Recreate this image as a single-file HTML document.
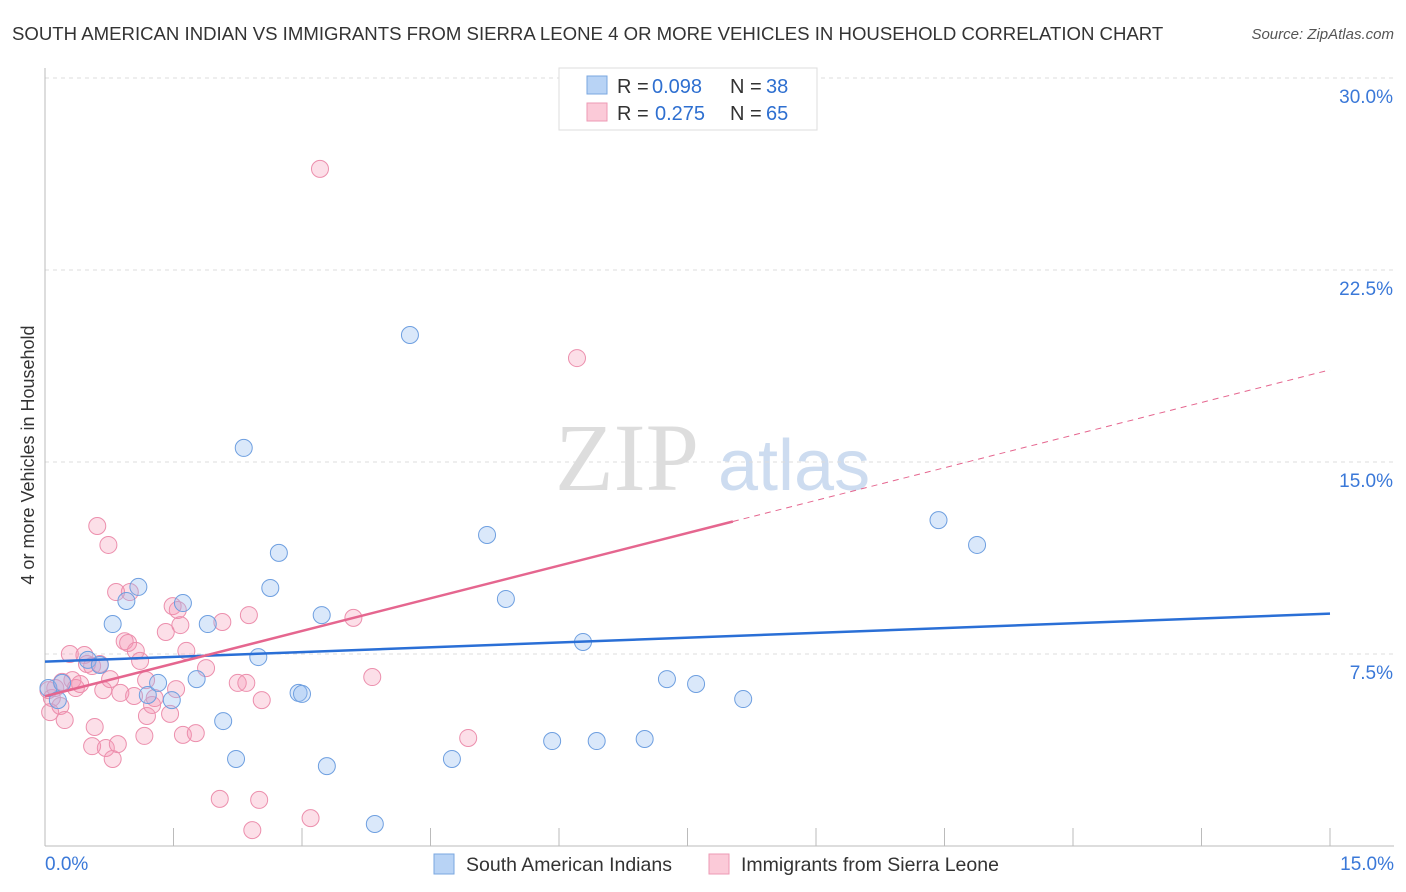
<!DOCTYPE html>
<html><head><meta charset="utf-8"><style>
body{margin:0;background:#fff;font-family:"Liberation Sans",sans-serif;}
svg{display:block}
</style></head><body>
<svg width="1406" height="892" id="chart">
<text x="12" y="40" font-size="18.6" fill="#333">SOUTH AMERICAN INDIAN VS IMMIGRANTS FROM SIERRA LEONE 4 OR MORE VEHICLES IN HOUSEHOLD CORRELATION CHART</text>
<text x="1394" y="39" font-size="15" fill="#555" font-style="italic" text-anchor="end">Source: ZipAtlas.com</text>
<text x="555" y="490" font-size="96" fill="#ddd" font-family="Liberation Serif,serif">ZIP</text>
<text x="718" y="490" font-size="72" fill="#cddcf0">atlas</text>
<text transform="translate(34,455) rotate(-90)" font-size="18" fill="#333" text-anchor="middle">4 or more Vehicles in Household</text>
<g id="grid"></g><g id="axes"></g><g id="marks"></g>
<g>
<rect x="559" y="68" width="258" height="62" fill="#fff" stroke="#ddd"/>
<rect x="587" y="76" width="20" height="18" fill="#b8d3f5" stroke="#7aa7e0"/>
<rect x="587" y="103" width="20" height="18" fill="#fbcad8" stroke="#ee9ab4"/>
<text x="617" y="93" font-size="20" fill="#333">R =</text>
<text x="652" y="93" font-size="20" fill="#2e6fd0">0.098</text>
<text x="730" y="93" font-size="20" fill="#333">N =</text>
<text x="766" y="93" font-size="20" fill="#2e6fd0">38</text>
<text x="617" y="120" font-size="20" fill="#333">R =</text>
<text x="655" y="120" font-size="20" fill="#2e6fd0">0.275</text>
<text x="730" y="120" font-size="20" fill="#333">N =</text>
<text x="766" y="120" font-size="20" fill="#2e6fd0">65</text>
</g>
<g>
<rect x="434" y="854" width="20" height="20" fill="#b8d3f5" stroke="#7aa7e0"/>
<text x="466" y="871" font-size="19.5" fill="#333">South American Indians</text>
<rect x="709" y="854" width="20" height="20" fill="#fbcad8" stroke="#ee9ab4"/>
<text x="741" y="871" font-size="19.5" fill="#333">Immigrants from Sierra Leone</text>
</g>
</svg>
<script>
const blueX=[0.04,0.15,0.2,0.5,0.64,0.79,0.95,1.09,1.2,1.32,1.48,1.61,1.77,1.9,2.08,2.23,2.32,2.49,2.63,2.73,2.96,3.0,3.23,3.29,3.85,4.26,4.75,5.16,5.38,5.92,6.28,6.44,7.0,7.26,7.6,8.15,10.43,10.88];
const blueY=[6.17,5.7,6.37,7.27,7.07,8.67,9.57,10.12,5.9,6.37,5.7,9.49,6.52,8.67,4.88,3.4,15.55,7.38,10.08,11.45,5.98,5.94,9.02,3.12,0.86,19.96,3.4,12.15,9.65,4.1,7.97,4.1,4.18,6.52,6.33,5.74,12.73,11.76];
const pinkX=[3.21,6.21,0.61,0.74,0.04,0.06,0.08,0.12,0.18,0.2,0.23,0.29,0.32,0.36,0.41,0.46,0.49,0.55,0.58,0.55,0.64,0.68,0.71,0.76,0.79,0.83,0.85,0.88,0.93,0.97,0.99,1.04,1.06,1.11,1.16,1.18,1.19,1.25,1.28,1.41,1.46,1.49,1.53,1.55,1.58,1.61,1.65,1.76,1.88,2.04,2.07,2.25,2.35,2.38,2.42,2.5,2.53,3.1,3.6,3.82,4.94];
const pinkY=[26.45,19.06,12.5,11.76,6.09,5.23,5.78,6.17,5.47,6.41,4.92,7.5,6.48,6.17,6.33,7.46,7.11,7.03,4.65,3.9,7.11,6.09,3.83,6.52,3.4,9.92,3.98,5.98,8.0,7.93,9.92,5.86,7.62,7.23,4.3,6.48,5.08,5.51,5.78,8.36,5.16,9.37,6.13,9.22,8.63,4.34,7.62,4.41,6.95,1.84,8.75,6.37,6.37,9.02,0.62,1.8,5.7,1.09,8.91,6.6,4.22];
const NS='http://www.w3.org/2000/svg';
const X0=45,X1=1330,Y0=846,YS=25.6;
function sx(v){return X0+v*(X1-X0)/15;}
function sy(v){return Y0-v*YS;}
function mk(t,a,p){const e=document.createElementNS(NS,t);for(const k in a)e.setAttribute(k,a[k]);p.appendChild(e);return e;}
const grid=document.getElementById('grid'),axes=document.getElementById('axes'),marks=document.getElementById('marks');
const yTicks=[7.5,15,22.5,30],yLabels=['7.5%','15.0%','22.5%','30.0%'];
yTicks.forEach((v,i)=>{
 const l=mk('line',{x1:X0,x2:1394,y1:sy(v),y2:sy(v),stroke:'#ddd','stroke-dasharray':'4,4'},grid);
 
 
 const t=mk('text',{x:1393,y:sy(v)+25,'font-size':19,fill:'#3a78d8','text-anchor':'end'},axes);t.textContent=yLabels[i];
 
 
});
mk('line',{x1:X0,x2:X0,y1:68,y2:846,stroke:'#bbb'},axes);
mk('line',{x1:X0,x2:1394,y1:846,y2:846,stroke:'#bbb'},axes);
for(let i=0;i<=10;i++){const x=sx(i*1.5);mk('line',{x1:x,x2:x,y1:828,y2:846,stroke:'#bbb'},axes);}
const xl=['0.0%','15.0%'];
[[0,'start',45],[15,'end',1394]].forEach((d,i)=>{const t=mk('text',{x:d[2],y:870,'font-size':19,fill:'#3a78d8','text-anchor':d[1]},axes);t.textContent=xl[i];
 
 });
pinkX.forEach((v,i)=>{const c=mk('circle',{cx:sx(v),cy:sy(pinkY[i]),r:8.5,fill:'rgba(245,150,180,0.3)',stroke:'#ec8fad','stroke-width':1},marks);
 
 });
blueX.forEach((v,i)=>{const c=mk('circle',{cx:sx(v),cy:sy(blueY[i]),r:8.5,fill:'rgba(150,190,240,0.35)',stroke:'#6e9fe0','stroke-width':1},marks);
 
 });
const bl=[7.2,0.125],pl=[5.85,0.85];
let l=mk('line',{x1:sx(0),y1:sy(bl[0]),x2:sx(15),y2:sy(bl[0]+bl[1]*15),stroke:'#2a6fd6','stroke-width':2.5},marks);


l=mk('line',{x1:sx(0),y1:sy(pl[0]),x2:sx(8.03),y2:sy(pl[0]+pl[1]*8.03),stroke:'#e5668f','stroke-width':2.5},marks);


l=mk('line',{x1:sx(8.03),y1:sy(pl[0]+pl[1]*8.03),x2:sx(15),y2:sy(pl[0]+pl[1]*15),stroke:'#e5668f','stroke-width':1,'stroke-dasharray':'6,5'},marks);


</script>
</body></html>
